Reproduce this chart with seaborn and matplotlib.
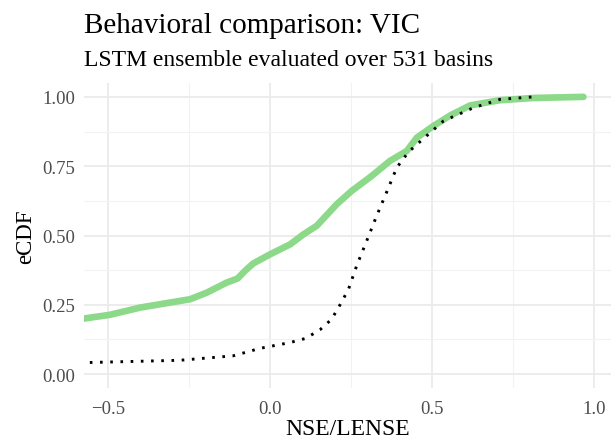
import matplotlib
matplotlib.use("Agg")
import matplotlib.pyplot as plt
import seaborn as sns
import pandas as pd
import numpy as np

# eCDF curves (x = NSE/LENSE value, y = cumulative fraction)
lstm_x = [-0.577, -0.494, -0.401, -0.299, -0.247, -0.195, -0.134, -0.100, -0.075, -0.052, 0.0,
          0.062, 0.103, 0.144, 0.206, 0.252, 0.314, 0.370, 0.422, 0.453, 0.504,
          0.556, 0.617, 0.710, 0.813, 0.967]
lstm_y = [0.200, 0.214, 0.240, 0.260, 0.270, 0.294, 0.330, 0.345, 0.375, 0.399, 0.432,
          0.468, 0.504, 0.535, 0.613, 0.661, 0.715, 0.769, 0.805, 0.853, 0.895,
          0.933, 0.969, 0.988, 0.996, 1.000]

vic_x = [-0.556, -0.278, -0.114, -0.031, 0.062, 0.110, 0.154, 0.190, 0.216, 0.242,
         0.267, 0.298, 0.329, 0.360, 0.391, 0.427, 0.473, 0.535, 0.628, 0.710, 0.812]
vic_y = [0.042, 0.050, 0.066, 0.093, 0.114, 0.129, 0.160, 0.198, 0.250, 0.306,
         0.390, 0.480, 0.571, 0.657, 0.745, 0.801, 0.849, 0.913, 0.961, 0.991, 1.000]

x_ticks = [-0.5, 0.0, 0.5, 1.0]
x_tick_labels = ["\u22120.5", "0.0", "0.5", "1.0"]
y_ticks = [0.0, 0.25, 0.5, 0.75, 1.0]
y_tick_labels = ["0.00", "0.25", "0.50", "0.75", "1.00"]

title = "Behavioral comparison: VIC"
subtitle = "LSTM ensemble evaluated over 531 basins"

df = pd.concat([
    pd.DataFrame({"x": lstm_x, "y": lstm_y, "model": "LSTM"}),
    pd.DataFrame({"x": vic_x, "y": vic_y, "model": "VIC"}),
], ignore_index=True)

sns.set_theme(style="whitegrid")
plt.rcParams["font.family"] = ["Liberation Serif", "DejaVu Serif"]

fig = plt.figure(figsize=(6.11, 4.39), dpi=100)
ax = fig.add_axes([84 / 611, 1 - 389 / 439, (611 - 84) / 611, (389 - 84) / 439])

sns.lineplot(data=df[df.model == "LSTM"], x="x", y="y", sort=False, ax=ax,
             color="#8DD98A", linewidth=4.8, solid_capstyle="round",
             solid_joinstyle="round", estimator=None)
sns.lineplot(data=df[df.model == "VIC"], x="x", y="y", sort=False, ax=ax,
             color="black", linewidth=2.1, dashes=False, estimator=None)
line = ax.lines[-1]
line.set_dashes((0.9, 2.6))
line.set_dash_capstyle("butt")

ax.set_xlim(-0.574, 1.052)
ax.set_ylim(-0.05, 1.05)
ax.set_xticks(x_ticks)
ax.set_xticklabels(x_tick_labels)
ax.set_yticks(y_ticks)
ax.set_yticklabels(y_tick_labels)
ax.set_xticks([-0.25, 0.25, 0.75], minor=True)
ax.set_yticks([0.125, 0.375, 0.625, 0.875], minor=True)

ax.set_facecolor("white")
for s in ax.spines.values():
    s.set_visible(False)
ax.grid(which="major", color="#EBEBEB", linewidth=1.3)
ax.grid(which="minor", color="#F2F2F2", linewidth=0.8)
ax.set_axisbelow(True)
ax.tick_params(which="major", length=3.6, width=1.0, color="#333333",
               labelsize=13.5, labelcolor="#4D4D4D", pad=3)
ax.tick_params(which="minor", length=0)
ax.tick_params(axis="x", pad=5)

ax.set_xlabel("NSE/LENSE", fontsize=17, color="black", labelpad=1)
ax.set_ylabel("eCDF", fontsize=16.5, color="black", labelpad=4)

fig.text(84 / 611, 1 - 33 / 439, title, fontsize=21, color="black", ha="left", va="baseline")
fig.text(84 / 611, 1 - 66 / 439, subtitle, fontsize=17, color="black", ha="left", va="baseline")

fig.savefig("out.png", dpi=100)
